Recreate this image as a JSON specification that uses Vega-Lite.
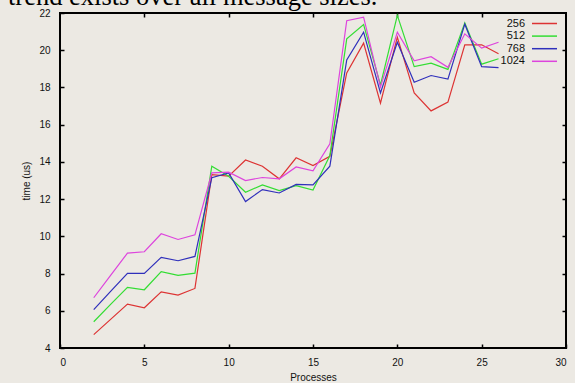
{
  "$schema": "https://vega.github.io/schema/vega-lite/v6.json",
  "width": 506,
  "height": 335,
  "autosize": "none",
  "padding": {"left": 60, "top": 13, "right": 9, "bottom": 35},
  "background": "#ECE9E3",
  "title": {
    "text": "trend exists over all message sizes.",
    "anchor": "start",
    "frame": "group",
    "font": "Liberation Serif",
    "fontSize": 26.5,
    "fontWeight": "normal",
    "baseline": "alphabetic",
    "offset": 0,
    "dy": 23,
    "dx": -52,
    "color": "black"
  },
  "config": {
    "view": {"stroke": "black", "strokeWidth": 2},
    "axis": {
      "domain": false,
      "grid": false,
      "ticks": true,
      "tickColor": "black",
      "tickWidth": 1.5,
      "tickSize": -4,
      "labelFont": "Liberation Sans",
      "labelFontSize": 10,
      "labelColor": "#111",
      "titleFont": "Liberation Sans",
      "titleFontSize": 10,
      "titleFontWeight": "normal",
      "titleColor": "#111"
    }
  },
  "data": {
    "values": [
      {"p": 2, "size": "256", "t": 4.72}, {"p": 2, "size": "512", "t": 5.41}, {"p": 2, "size": "768", "t": 6.06}, {"p": 2, "size": "1024", "t": 6.70},
      {"p": 3, "size": "256", "t": 5.54}, {"p": 3, "size": "512", "t": 6.34}, {"p": 3, "size": "768", "t": 7.04}, {"p": 3, "size": "1024", "t": 7.90},
      {"p": 4, "size": "256", "t": 6.36}, {"p": 4, "size": "512", "t": 7.26}, {"p": 4, "size": "768", "t": 8.01}, {"p": 4, "size": "1024", "t": 9.10},
      {"p": 5, "size": "256", "t": 6.16}, {"p": 5, "size": "512", "t": 7.13}, {"p": 5, "size": "768", "t": 8.01}, {"p": 5, "size": "1024", "t": 9.17},
      {"p": 6, "size": "256", "t": 7.02}, {"p": 6, "size": "512", "t": 8.10}, {"p": 6, "size": "768", "t": 8.87}, {"p": 6, "size": "1024", "t": 10.14},
      {"p": 7, "size": "256", "t": 6.84}, {"p": 7, "size": "512", "t": 7.90}, {"p": 7, "size": "768", "t": 8.69}, {"p": 7, "size": "1024", "t": 9.83},
      {"p": 8, "size": "256", "t": 7.20}, {"p": 8, "size": "512", "t": 8.02}, {"p": 8, "size": "768", "t": 8.92}, {"p": 8, "size": "1024", "t": 10.08},
      {"p": 9, "size": "256", "t": 13.32}, {"p": 9, "size": "512", "t": 13.77}, {"p": 9, "size": "768", "t": 13.15}, {"p": 9, "size": "1024", "t": 13.41},
      {"p": 10, "size": "256", "t": 13.23}, {"p": 10, "size": "512", "t": 13.23}, {"p": 10, "size": "768", "t": 13.41}, {"p": 10, "size": "1024", "t": 13.45},
      {"p": 11, "size": "256", "t": 14.10}, {"p": 11, "size": "512", "t": 12.37}, {"p": 11, "size": "768", "t": 11.87}, {"p": 11, "size": "1024", "t": 13.00},
      {"p": 12, "size": "256", "t": 13.77}, {"p": 12, "size": "512", "t": 12.76}, {"p": 12, "size": "768", "t": 12.51}, {"p": 12, "size": "1024", "t": 13.16},
      {"p": 13, "size": "256", "t": 13.09}, {"p": 13, "size": "512", "t": 12.46}, {"p": 13, "size": "768", "t": 12.33}, {"p": 13, "size": "1024", "t": 13.09},
      {"p": 14, "size": "256", "t": 14.22}, {"p": 14, "size": "512", "t": 12.72}, {"p": 14, "size": "768", "t": 12.79}, {"p": 14, "size": "1024", "t": 13.73},
      {"p": 15, "size": "256", "t": 13.80}, {"p": 15, "size": "512", "t": 12.49}, {"p": 15, "size": "768", "t": 12.76}, {"p": 15, "size": "1024", "t": 13.52},
      {"p": 16, "size": "256", "t": 14.30}, {"p": 16, "size": "512", "t": 14.34}, {"p": 16, "size": "768", "t": 13.77}, {"p": 16, "size": "1024", "t": 14.97},
      {"p": 17, "size": "256", "t": 18.78}, {"p": 17, "size": "512", "t": 20.61}, {"p": 17, "size": "768", "t": 19.48}, {"p": 17, "size": "1024", "t": 21.59},
      {"p": 18, "size": "256", "t": 20.38}, {"p": 18, "size": "512", "t": 21.38}, {"p": 18, "size": "768", "t": 20.97}, {"p": 18, "size": "1024", "t": 21.78},
      {"p": 19, "size": "256", "t": 17.16}, {"p": 19, "size": "512", "t": 18.14}, {"p": 19, "size": "768", "t": 17.71}, {"p": 19, "size": "1024", "t": 18.02},
      {"p": 20, "size": "256", "t": 20.70}, {"p": 20, "size": "512", "t": 21.87}, {"p": 20, "size": "768", "t": 20.43}, {"p": 20, "size": "1024", "t": 20.97},
      {"p": 21, "size": "256", "t": 17.71}, {"p": 21, "size": "512", "t": 19.12}, {"p": 21, "size": "768", "t": 18.28}, {"p": 21, "size": "1024", "t": 19.43},
      {"p": 22, "size": "256", "t": 16.74}, {"p": 22, "size": "512", "t": 19.31}, {"p": 22, "size": "768", "t": 18.64}, {"p": 22, "size": "1024", "t": 19.65},
      {"p": 23, "size": "256", "t": 17.21}, {"p": 23, "size": "512", "t": 18.97}, {"p": 23, "size": "768", "t": 18.45}, {"p": 23, "size": "1024", "t": 19.08},
      {"p": 24, "size": "256", "t": 20.29}, {"p": 24, "size": "512", "t": 21.47}, {"p": 24, "size": "768", "t": 21.40}, {"p": 24, "size": "1024", "t": 20.88},
      {"p": 25, "size": "256", "t": 20.29}, {"p": 25, "size": "512", "t": 19.25}, {"p": 25, "size": "768", "t": 19.12}, {"p": 25, "size": "1024", "t": 20.11},
      {"p": 26, "size": "256", "t": 19.81}, {"p": 26, "size": "512", "t": 19.54}, {"p": 26, "size": "768", "t": 19.07}, {"p": 26, "size": "1024", "t": 20.43}
    ]
  },
  "layer": [
    {
      "mark": {"type": "line", "strokeWidth": 1.2, "clip": true},
      "encoding": {
        "x": {
          "field": "p", "type": "quantitative",
          "scale": {"domain": [0, 30], "nice": false},
          "axis": {"values": [0, 5, 10, 15, 20, 25, 30], "title": "Processes", "labelPadding": 13, "titlePadding": 5}
        },
        "y": {
          "field": "t", "type": "quantitative",
          "scale": {"domain": [4, 22], "nice": false, "zero": false},
          "axis": {"values": [4, 6, 8, 10, 12, 14, 16, 18, 20, 22], "title": "time (us)", "labelPadding": 14, "titlePadding": 7}
        },
        "color": {
          "field": "size", "type": "nominal",
          "scale": {"domain": ["256", "512", "768", "1024"], "range": ["#dd3333", "#33dd33", "#2f2fbb", "#dd44dd"]},
          "legend": {
            "title": null,
            "orient": "none",
            "legendX": 479,
            "legendY": 5,
            "padding": 0,
            "symbolType": "M-6,0H6",
            "symbolSize": 17.4,
            "symbolStrokeWidth": 1.5,
            "labelAlign": "right",
            "labelOffset": -25,
            "labelFont": "Liberation Sans",
            "labelFontSize": 11,
            "labelColor": "#111",
            "rowPadding": 0.6
          }
        }
      }
    },
    {
      "mark": {"type": "line", "opacity": 0},
      "encoding": {
        "x": {
          "field": "p", "type": "quantitative",
          "scale": {"domain": [0, 30], "nice": false},
          "axis": {"orient": "top", "values": [5, 10, 15, 20, 25], "labels": false, "title": null}
        },
        "y": {
          "field": "t", "type": "quantitative",
          "scale": {"domain": [4, 22], "nice": false, "zero": false},
          "axis": {"orient": "right", "values": [6, 8, 10, 12, 14, 16, 18, 20], "labels": false, "title": null}
        },
        "detail": {"field": "size"}
      }
    }
  ],
  "resolve": {"axis": {"x": "independent", "y": "independent"}}
}
